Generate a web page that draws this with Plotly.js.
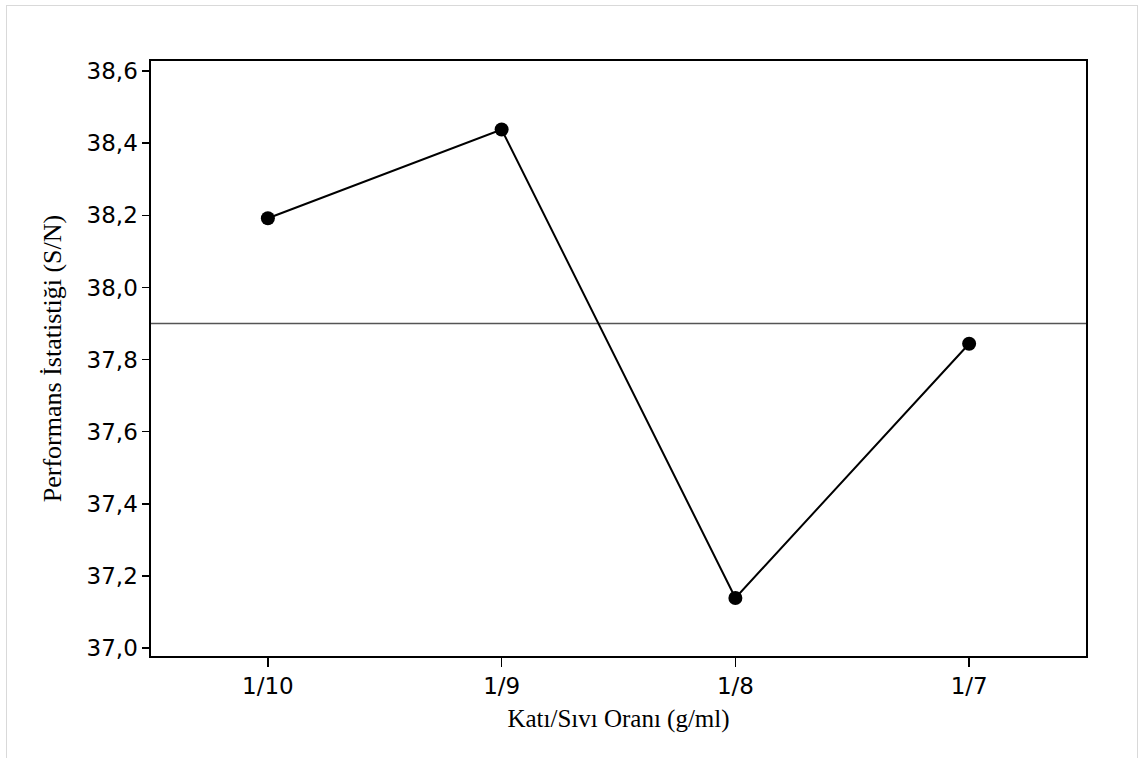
<!DOCTYPE html>
<html>
<head>
<meta charset="utf-8">
<script src="https://cdn.plot.ly/plotly-3.0.1.min.js"></script>
<style>
  html, body { margin: 0; padding: 0; background: #fff; }
  #wrap { position: relative; width: 1146px; height: 758px; }
  #chart { position: absolute; left: 0; top: 0; width: 1146px; height: 758px; }
  #frame { position: absolute; left: 6px; top: 5px; width: 1132px; height: 760px;
           border: 1px solid #d9d9d9; box-sizing: border-box; pointer-events: none; }
</style>
</head>
<body>
<div id="wrap">
  <div id="chart"></div>
  <div id="frame"></div>
</div>
<script>
// Solid/liquid ratio levels and their mean S/N ratios
const ratios = ['1/10', '1/9', '1/8', '1/7'];
const snMeans = [38.192, 38.438, 37.139, 37.844];

// Overall mean of the S/N ratio (horizontal reference line)
const grandMean = 37.90;

// Y-axis tick values and their labels (decimal comma)
const yTickVals = [37.0, 37.2, 37.4, 37.6, 37.8, 38.0, 38.2, 38.4, 38.6];
const yTickText = ['37,0', '37,2', '37,4', '37,6', '37,8', '38,0', '38,2', '38,4', '38,6'];

const xIdx = ratios.map((_, i) => i);
const xRange = [-0.5, 3.5];

const traces = [
  {
    // mean line spanning the whole plot width
    x: xRange,
    y: [grandMean, grandMean],
    type: 'scatter',
    mode: 'lines',
    line: { color: '#555555', width: 1.5 },
    hoverinfo: 'skip',
    showlegend: false
  },
  {
    x: xIdx,
    y: snMeans,
    type: 'scatter',
    mode: 'lines+markers',
    line: { color: '#000000', width: 2 },
    marker: { color: '#000000', size: 14 },
    showlegend: false
  }
];

const tickFont = { family: 'DejaVu Sans', size: 23, color: '#000000' };

const layout = {
  width: 1146,
  height: 758,
  margin: { l: 151, r: 60, t: 61, b: 102, pad: 0 },
  paper_bgcolor: 'rgba(0,0,0,0)',
  plot_bgcolor: '#ffffff',
  showlegend: false,
  xaxis: {
    range: xRange,
    tickvals: xIdx,
    ticktext: ratios,
    showgrid: false,
    zeroline: false,
    showline: true,
    mirror: true,
    linecolor: '#000000',
    linewidth: 1.6,
    ticks: 'outside',
    ticklen: 9,
    tickwidth: 1.5,
    tickcolor: '#000000',
    tickfont: tickFont,
    title: {
      text: 'Katı/Sıvı Oranı (g/ml)',
      font: { family: 'Liberation Serif', size: 25, color: '#000000' },
      standoff: 11
    }
  },
  yaxis: {
    range: [36.978, 38.628],
    tickvals: yTickVals,
    ticktext: yTickText,
    showgrid: false,
    zeroline: false,
    showline: true,
    mirror: true,
    linecolor: '#000000',
    linewidth: 1.6,
    ticks: 'outside',
    ticklen: 7,
    tickwidth: 1.5,
    tickcolor: '#000000',
    tickfont: tickFont,
    title: {
      text: 'Performans İstatistiği (S/N)',
      font: { family: 'Liberation Serif', size: 26, color: '#000000' },
      standoff: 17
    }
  }
};

Plotly.newPlot('chart', traces, layout, { displayModeBar: false, staticPlot: true });
</script>
</body>
</html>
